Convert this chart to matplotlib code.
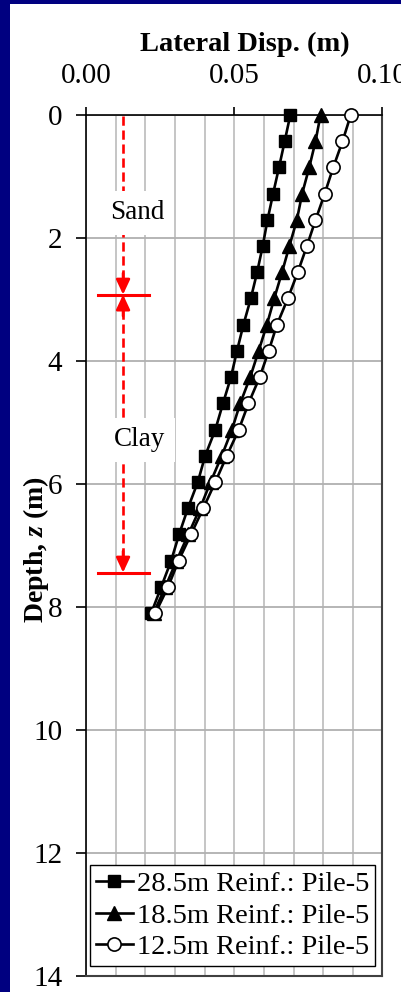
import matplotlib
matplotlib.use("Agg")
import matplotlib.pyplot as plt
from matplotlib.patches import Rectangle
from matplotlib.ticker import MultipleLocator

plt.rcParams['font.family'] = ['Liberation Serif', 'DejaVu Serif']
plt.rcParams['mathtext.fontset'] = 'custom'
plt.rcParams['mathtext.it'] = 'Liberation Serif:italic:bold'
plt.rcParams['mathtext.rm'] = 'Liberation Serif:bold'

# ---- data ----
depth = [0.00, 0.43, 0.85, 1.28, 1.71, 2.13, 2.56, 2.98, 3.41, 3.84,
         4.26, 4.69, 5.12, 5.54, 5.97, 6.39, 6.82, 7.25, 7.67, 8.10]
disp_28_5 = [0.0689, 0.0670, 0.0651, 0.0631, 0.0612, 0.0596, 0.0577, 0.0556, 0.0531, 0.0509,
             0.0489, 0.0462, 0.0436, 0.0402, 0.0377, 0.0344, 0.0314, 0.0287, 0.0254, 0.0220]
disp_18_5 = [0.0791, 0.0774, 0.0753, 0.0729, 0.0711, 0.0686, 0.0661, 0.0635, 0.0610, 0.0582,
             0.0554, 0.0520, 0.0492, 0.0458, 0.0420, 0.0385, 0.0345, 0.0305, 0.0268, 0.0228]
disp_12_5 = [0.0893, 0.0865, 0.0834, 0.0805, 0.0774, 0.0745, 0.0714, 0.0681, 0.0644, 0.0616,
             0.0586, 0.0548, 0.0515, 0.0475, 0.0436, 0.0396, 0.0354, 0.0312, 0.0277, 0.0234]
labels = ["28.5m Reinf.: Pile-5", "18.5m Reinf.: Pile-5", "12.5m Reinf.: Pile-5"]
x_ticks = [0.00, 0.05, 0.10]
x_ticklabels = ["0.00", "0.05", "0.10"]
y_ticks = [0, 2, 4, 6, 8, 10, 12, 14]
layer_x = 0.0125
sand_bottom = 2.92
clay_bottom = 7.44

W, H = 402, 992
fig = plt.figure(figsize=(W / 100, H / 100), dpi=100)
fig.patch.set_facecolor('#000080')
fig.patches.append(Rectangle((10 / W, 0), 1 - 10 / W, 1 - 4 / H, transform=fig.transFigure,
                             facecolor='white', edgecolor='none', zorder=-10))

ax = fig.add_axes([86 / W, 1 - 976 / H, (382.5 - 86) / W, (976 - 115) / H])
ax.set_zorder(1)
ax.set_xlim(0, 0.10)
ax.set_ylim(14, 0)

ax.xaxis.tick_top()
ax.set_xticks(x_ticks)
ax.set_xticklabels(x_ticklabels)
ax.xaxis.set_minor_locator(MultipleLocator(0.01))
ax.set_yticks(y_ticks)
ax.tick_params(axis='x', which='major', direction='out', length=6, width=1.2, color='black',
               labelsize=21, pad=13)
ax.tick_params(axis='x', which='minor', length=0)
ax.tick_params(axis='y', which='major', direction='out', length=7, width=1.2, color='black',
               labelsize=21, pad=10)
ax.grid(True, axis='x', which='both', color='#c0c0c0', lw=1.3, zorder=0)
ax.grid(True, axis='y', which='major', color='#b0b0b0', lw=1.3, zorder=0)
ax.set_axisbelow(True)

for s in ['top', 'left']:
    ax.spines[s].set_color('black')
    ax.spines[s].set_linewidth(1.2)
for s in ['right', 'bottom']:
    ax.spines[s].set_color('#404040')
    ax.spines[s].set_linewidth(1.5)

ax.plot(disp_28_5, depth, '-s', color='black', lw=1.9, ms=8.5, mfc='black', mec='black',
        label=labels[0], clip_on=False, zorder=5)
ax.plot(disp_18_5, depth, '-^', color='black', lw=1.9, ms=9.5, mfc='black', mec='black',
        label=labels[1], clip_on=False, zorder=6)
ax.plot(disp_12_5, depth, '-o', color='black', lw=1.9, ms=9.5, mfc='white', mec='black', mew=1.2,
        label=labels[2], clip_on=False, zorder=7)

# layer annotations
red = '#ff0000'
dash = (0, (3.5, 1.8))
ax.plot([layer_x, layer_x], [0.02, sand_bottom - 0.25], color=red, lw=1.9, linestyle=dash, zorder=3)
ax.plot([layer_x, layer_x], [sand_bottom + 0.25, clay_bottom - 0.25], color=red, lw=1.9,
        linestyle=dash, zorder=3)
arrow = dict(arrowstyle='-|>,head_length=0.9,head_width=0.42', color=red, lw=1.9,
             shrinkA=0, shrinkB=0)
ax.annotate('', xy=(layer_x, sand_bottom), xytext=(layer_x, sand_bottom - 0.35), arrowprops=arrow,
            zorder=3)
ax.annotate('', xy=(layer_x, sand_bottom), xytext=(layer_x, sand_bottom + 0.35), arrowprops=arrow,
            zorder=3)
ax.annotate('', xy=(layer_x, clay_bottom), xytext=(layer_x, clay_bottom - 0.35), arrowprops=arrow,
            zorder=3)
ax.plot([0.0041, 0.0213], [sand_bottom, sand_bottom], color=red, lw=2.2, zorder=3)
ax.plot([0.0041, 0.0213], [clay_bottom, clay_bottom], color=red, lw=2.2, zorder=3)

box = dict(boxstyle='square,pad=0.35', facecolor='white', edgecolor='none')
ax.text(0.0172, 1.59, 'Sand', fontsize=19.5, ha='center', va='center', bbox=box, zorder=4)
ax.text(0.0182, 5.28, 'Clay', fontsize=19.5, ha='center', va='center', bbox=box, zorder=4)

leg = ax.legend(loc='lower right', bbox_to_anchor=(0.975, 0.0116), borderaxespad=0,
                fontsize=20.5, frameon=True, fancybox=False, edgecolor='black', framealpha=1,
                handlelength=1.3, handletextpad=0.15, borderpad=0.2, labelspacing=0.2)
leg.get_frame().set_linewidth(1.0)
leg.set_zorder(10)

fig.text(245 / W, 1 - 44 / H, 'Lateral Disp. (m)', fontsize=20.5, fontweight='bold',
         ha='center', va='center')
fig.text(36 / W, 1 - 550 / H, r'Depth, $z$ (m)', fontsize=20, fontweight='bold', rotation=90,
         ha='center', va='center')

fig.savefig('out.png', dpi=100, facecolor=fig.get_facecolor())
